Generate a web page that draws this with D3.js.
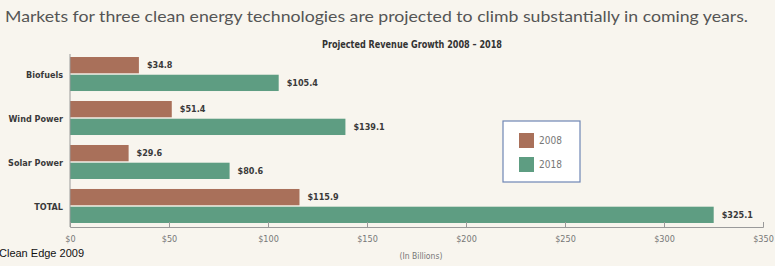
<!DOCTYPE html>
<html>
<head>
<meta charset="utf-8">
<script src="https://cdn.jsdelivr.net/npm/d3@7"></script>
<style>
  body { margin: 0; background: #f8f5ee; }
  svg { display: block; }
  text { font-family: "DejaVu Sans Condensed", "Open Sans", sans-serif; }
</style>
</head>
<body>
<svg id="chart"></svg>
<script>
// Chart data
const categories = ["Biofuels", "Wind Power", "Solar Power", "TOTAL"];
const years = ["2008", "2018"];
const values2008 = [34.8, 51.4, 29.6, 115.9];
const values2018 = [105.4, 139.1, 80.6, 325.1];
const xTicks = [0, 50, 100, 150, 200, 250, 300, 350];

const W = 775, H = 266;
const colors = {"2008": "#a9705a", "2018": "#5e9d82"};

const svg = d3.select("#chart").attr("width", W).attr("height", H);

svg.append("rect").attr("width", W).attr("height", H).attr("fill", "#f8f5ee");

const x = d3.scaleLinear().domain([0, 350]).range([70, 763]);

const y = d3.scaleBand()
    .domain(categories)
    .range([52, 228])
    .paddingInner(0.227)
    .paddingOuter(0.114);

const ySub = d3.scaleBand()
    .domain(years)
    .range([0, y.bandwidth()])
    .paddingInner(0.08);

const rows = categories.map((c, i) => ({cat: c, values: [
    {year: "2008", value: values2008[i]},
    {year: "2018", value: values2018[i]}
]}));

// title
svg.append("text")
    .attr("x", 5).attr("y", 22)
    .attr("font-size", 15)
    .attr("fill", "#555")
    .attr("textLength", 743).attr("lengthAdjust", "spacingAndGlyphs")
    .style("font-family", "Lato, \"Open Sans\", sans-serif")
    .text("Markets for three clean energy technologies are projected to climb substantially in coming years.");

svg.append("text")
    .attr("x", 322).attr("y", 48)
    .attr("font-size", 11).attr("font-weight", "bold")
    .attr("fill", "#333")
    .attr("textLength", 180).attr("lengthAdjust", "spacingAndGlyphs")
    .text("Projected Revenue Growth 2008 \u2013 2018");

// bars
const groups = svg.selectAll(".grp")
    .data(rows)
  .enter().append("g")
    .attr("class", "grp")
    .attr("transform", d => `translate(0,${y(d.cat)})`);

groups.selectAll("rect")
    .data(d => d.values)
  .enter().append("rect")
    .attr("x", x(0))
    .attr("y", d => ySub(d.year))
    .attr("width", d => x(d.value) - x(0))
    .attr("height", ySub.bandwidth())
    .attr("fill", d => colors[d.year]);

groups.selectAll(".val")
    .data(d => d.values)
  .enter().append("text")
    .attr("class", "val")
    .attr("x", d => x(d.value) + 8)
    .attr("y", d => ySub(d.year) + ySub.bandwidth() / 2)
    .attr("dy", "0.32em")
    .attr("font-size", 9).attr("font-weight", "bold")
    .attr("fill", "#3a3a3a")
    .text(d => "$" + d.value);

// category labels
svg.selectAll(".cat")
    .data(categories)
  .enter().append("text")
    .attr("class", "cat")
    .attr("x", 63)
    .attr("y", d => y(d) + y.bandwidth() / 2 + 1)
    .attr("dy", "0.32em")
    .attr("text-anchor", "end")
    .attr("font-size", 9).attr("font-weight", "bold")
    .attr("fill", "#3a3a3a")
    .text(d => d);

// axes
svg.append("line")
    .attr("x1", x(0)).attr("x2", x(0))
    .attr("y1", 54).attr("y2", 227)
    .attr("stroke", "#9a9a9a").attr("stroke-width", 1);

const xAxis = svg.append("g")
    .attr("transform", "translate(0,227)")
    .call(d3.axisBottom(x).tickValues(xTicks).tickSize(-5).tickPadding(9).tickFormat(d => "$" + d));
xAxis.select(".domain").attr("stroke", "#9a9a9a");
xAxis.selectAll(".tick line").attr("stroke", "#9a9a9a");
xAxis.selectAll(".tick text")
    .attr("font-size", 9)
    .attr("fill", "#777")
    .style("font-family", "\"DejaVu Sans Condensed\", sans-serif");

svg.append("text")
    .attr("x", 421).attr("y", 259)
    .attr("text-anchor", "middle")
    .attr("font-size", 8.5)
    .attr("fill", "#777")
    .text("(In Billions)");

// legend
const legend = svg.append("g").attr("transform", "translate(503,121)");
legend.append("rect")
    .attr("width", 77).attr("height", 61)
    .attr("fill", "#ffffff")
    .attr("stroke", "#6f86b5").attr("stroke-width", 1.2);
years.forEach((yr, i) => {
    legend.append("rect")
        .attr("x", 16).attr("y", 12 + i * 24)
        .attr("width", 15).attr("height", 15)
        .attr("fill", colors[yr]);
    legend.append("text")
        .attr("x", 36).attr("y", 20 + i * 24)
        .attr("dy", "0.32em")
        .attr("font-size", 10)
        .attr("fill", "#777")
        .text(yr);
});

// source
svg.append("text")
    .attr("x", -1).attr("y", 257)
    .attr("font-size", 11)
    .attr("fill", "#111")
    .style("font-family", "\"Liberation Sans\", Arial, sans-serif")
    .text("Clean Edge 2009");
</script>
</body>
</html>
